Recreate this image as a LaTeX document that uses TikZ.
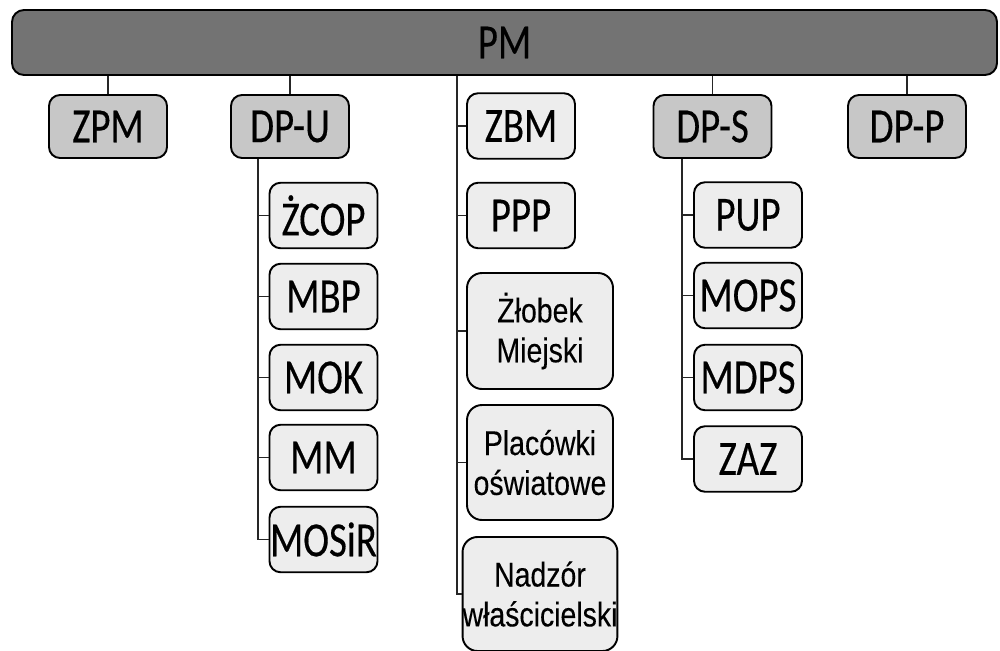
\documentclass[tikz,border=0pt]{standalone}
\usepackage{fontspec}
\newfontfamily\boxfont[FakeStretch=0.79, FakeBold=0.3]{Carlito}
\newfontfamily\notefont[FakeStretch=0.83, FakeBold=0.2]{Liberation Sans}
\definecolor{barfill}{gray}{0.45}
\definecolor{deptfill}{gray}{0.78}
\definecolor{unitfill}{gray}{0.93}

\begin{document}
\begin{tikzpicture}[x=0.2mm, y=-0.2mm,
  link/.style={line width=0.9pt, black!85},
  topbar/.style={draw, line width=1.1pt, rounded corners=2.4mm, fill=barfill, minimum width=197mm, minimum height=13mm, inner sep=0pt, font=\boxfont\fontsize{28}{30}\selectfont},
  deptbox/.style={draw, line width=1.1pt, rounded corners=2.2mm, fill=deptfill, minimum width=23.6mm, minimum height=12.6mm, inner sep=0pt, font=\boxfont\fontsize{28}{30}\selectfont},
  unitbox/.style={draw, line width=1.1pt, rounded corners=2.2mm, fill=unitfill, minimum width=21.6mm, minimum height=13.1mm, inner sep=0pt, font=\boxfont\fontsize{28}{30}\selectfont},
  notebox/.style={draw, line width=1.1pt, rounded corners=3mm, fill=unitfill, minimum width=29.2mm, inner sep=0pt, align=center, font=\notefont\fontsize{19.5}{22.7}\selectfont}]
\useasboundingbox (0,0) rectangle (1000,650);
\node [topbar] (pm) at (504.5, 42.5) {PM};
\node [deptbox] (zpm) at (108, 126.5) {ZPM};
\node [deptbox] (dpu) at (290, 126.5) {DP-U};
\node [unitbox] (zbm) at (521, 126) {ZBM};
\node [deptbox] (dps) at (712.5, 126.5) {DP-S};
\node [deptbox] (dpp) at (907, 126.5) {DP-P};
\node [unitbox] (zcop) at (323.5, 215.5) {ŻCOP};
\node [unitbox] (mbp) at (323.5, 296.5) {MBP};
\node [unitbox] (mok) at (323.5, 377.5) {MOK};
\node [unitbox] (mm) at (323.5, 457.5) {MM};
\node [unitbox] (mosir) at (323.5, 539.5) {MOSiR};
\node [unitbox] (ppp) at (521, 215.5) {PPP};
\node [notebox, minimum height=23.2mm] (zlobek) at (540, 331) {Żłobek\\Miejski};
\node [notebox, minimum height=23mm] (placowki) at (540, 462.5) {Placówki\\oświatowe};
\node [notebox, minimum height=22.8mm] (nadzor) at (540, 594) {Nadzór\\właścicielski};
\node [unitbox] (pup) at (748, 215) {PUP};
\node [unitbox] (mops) at (748, 295.5) {MOPS};
\node [unitbox] (mdps) at (748, 377.5) {MDPS};
\node [unitbox] (zaz) at (748, 459) {ZAZ};
\coordinate (uTop) at (258, 0);
\coordinate (mTop) at (457, 0);
\coordinate (sTop) at (682, 0);
\foreach \n in {zpm, dpu, dps, dpp}{\draw [link] (\n.north |- pm.south) -- (\n.north);}
\draw [link] (pm.south -| mTop) |- (nadzor.west);
\foreach \n in {zbm, ppp, zlobek, placowki}{\draw [link] (mTop |- \n.west) -- (\n.west);}
\draw [link] (dpu.south -| uTop) |- (mosir.west);
\foreach \n in {zcop, mbp, mok, mm}{\draw [link] (uTop |- \n.west) -- (\n.west);}
\draw [link] (dps.south -| sTop) |- (zaz.west);
\foreach \n in {pup, mops, mdps}{\draw [link] (sTop |- \n.west) -- (\n.west);}
\end{tikzpicture}
\end{document}
